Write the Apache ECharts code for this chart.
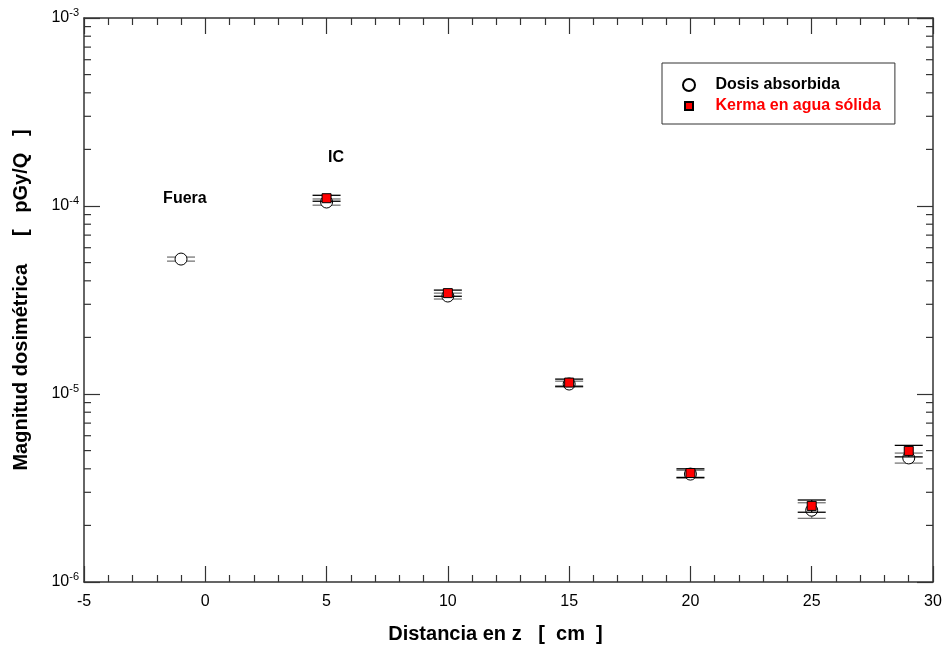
<!DOCTYPE html>
<html><head><meta charset="utf-8">
<script src="https://cdn.jsdelivr.net/npm/echarts@6/dist/echarts.min.js"></script>
<style>html,body{margin:0;padding:0;background:#fff}#c{width:948px;height:653px}</style>
</head><body><div id="c"></div>
<script>
// ---- data ----
const dosisX = [-1, 5, 10, 15, 20, 25, 29];
const dosis = [5.22e-5, 1.05e-4, 3.32e-5, 1.13e-5, 3.75e-6, 2.41e-6, 4.57e-6];
const dosisErr = [0.13e-5, 0.04e-4, 0.12e-5, 0.04e-5, 0.18e-6, 0.23e-6, 0.28e-6];
const kermaX = [5, 10, 15, 20, 25, 29];
const kerma = [1.10e-4, 3.44e-5, 1.15e-5, 3.8e-6, 2.54e-6, 4.98e-6];
const kermaErr = [0.04e-4, 0.13e-5, 0.05e-5, 0.2e-6, 0.19e-6, 0.35e-6];
const xTicks = [-5, 0, 5, 10, 15, 20, 25, 30];
const yMinorTicks = [2e-6,3e-6,4e-6,5e-6,6e-6,7e-6,8e-6,9e-6,
  2e-5,3e-5,4e-5,5e-5,6e-5,7e-5,8e-5,9e-5,
  2e-4,3e-4,4e-4,5e-4,6e-4,7e-4,8e-4,9e-4];
const annotations = [[-0.84, 1.09e-4, 'Fuera'], [5.39, 1.82e-4, 'IC']];
const seriesNames = ['Dosis absorbida', 'Kerma en agua sólida'];

const FONT = '"Liberation Sans", Arial, sans-serif';
const AX = '#333';

function errData(xs, ys, es) {
  return xs.map((x, i) => [x, ys[i], ys[i] - es[i], ys[i] + es[i]]);
}
function errRender(color) {
  return function (params, api) {
    const x = api.value(0);
    const lo = api.coord([x, api.value(2)]);
    const hi = api.coord([x, api.value(3)]);
    const hw = 14;
    const st = { stroke: color, lineWidth: 1.3 };
    return { type: 'group', children: [
      { type: 'line', shape: { x1: lo[0], y1: lo[1], x2: hi[0], y2: hi[1] }, style: st },
      { type: 'line', shape: { x1: lo[0] - hw, y1: lo[1], x2: lo[0] + hw, y2: lo[1] }, style: st },
      { type: 'line', shape: { x1: hi[0] - hw, y1: hi[1], x2: hi[0] + hw, y2: hi[1] }, style: st }
    ]};
  };
}
function minorRender(params, api) {
  const v = api.value(1);
  const l = api.coord([xTicks[0], v]);
  const r = api.coord([xTicks[xTicks.length - 1], v]);
  const st = { stroke: AX, lineWidth: 1.2 };
  return { type: 'group', children: [
    { type: 'line', shape: { x1: l[0], y1: l[1], x2: l[0] + 7, y2: l[1] }, style: st },
    { type: 'line', shape: { x1: r[0] - 7, y1: r[1], x2: r[0], y2: r[1] }, style: st }
  ]};
}

const chart = echarts.init(document.getElementById('c'), null, { renderer: 'canvas' });
const yLabel = {
  margin: 5,
  formatter: v => '{b|10}{s|' + Math.round(Math.log10(v)) + '}',
  rich: {
    b: { fontSize: 16, fontFamily: FONT, color: '#000' },
    s: { fontSize: 11, fontFamily: FONT, color: '#000', padding: [0, 0, 10, 0] }
  }
};
const axLine = { onZero: false, lineStyle: { color: AX, width: 1.5 } };
const majTick = { inside: true, length: 16, lineStyle: { color: AX, width: 1.2 } };
const minTick = { show: true, splitNumber: 5, length: 7, lineStyle: { color: AX, width: 1.2 } };
const squareIcon = 'path://M0,0M12,12M2,2L10,2L10,10L2,10Z';

chart.setOption({
  animation: false,
  backgroundColor: '#fff',
  textStyle: { fontFamily: FONT },
  grid: { left: 84, right: 15, top: 18, bottom: 71, containLabel: false },
  legend: {
    orient: 'vertical', left: 662, top: 63,
    backgroundColor: '#fff', borderColor: AX, borderWidth: 1,
    padding: [14, 14, 10, 20], itemGap: 5,
    itemWidth: 43, itemHeight: 12,
    data: [
      { name: seriesNames[0], icon: 'circle', textStyle: { color: '#000' } },
      { name: seriesNames[1], icon: squareIcon, textStyle: { color: '#f00' } }
    ],
    textStyle: { fontSize: 16, fontWeight: 'bold', fontFamily: FONT }
  },
  xAxis: [{
    type: 'value', min: xTicks[0], max: xTicks[xTicks.length - 1], interval: 5,
    name: 'Distancia en z   [  cm  ]', nameLocation: 'middle', nameGap: 42,
    nameTextStyle: { fontSize: 20, fontWeight: 'bold', color: '#000', fontFamily: FONT, padding: [0, 26, 0, 0] },
    axisLine: axLine, axisTick: majTick, minorTick: minTick,
    axisLabel: { fontSize: 16, color: '#000', margin: 12, fontFamily: FONT },
    splitLine: { show: false }
  }, {
    type: 'value', position: 'top', min: xTicks[0], max: xTicks[xTicks.length - 1], interval: 5,
    axisLine: axLine, axisTick: majTick, minorTick: minTick,
    axisLabel: { show: false }, splitLine: { show: false }
  }],
  yAxis: [{
    type: 'log', logBase: 10, min: 1e-6, max: 1e-3, splitNumber: 3,
    name: 'Magnitud dosimétrica     [   pGy/Q   ]', nameLocation: 'middle', nameGap: 53,
    nameTextStyle: { fontSize: 20, fontWeight: 'bold', color: '#000', fontFamily: FONT },
    axisLine: axLine, axisTick: majTick,
    axisLabel: yLabel,
    splitLine: { show: false }
  }, {
    type: 'log', logBase: 10, min: 1e-6, max: 1e-3, splitNumber: 3, position: 'right',
    axisLine: axLine, axisTick: majTick,
    axisLabel: { show: false }, splitLine: { show: false }
  }],
  series: [
    { type: 'custom', name: 'minor', renderItem: minorRender, clip: false, silent: true,
      data: yMinorTicks.map(v => [0, v]), encode: { x: 0, y: 1 }, z: 1 },
    { type: 'custom', name: 'errD', renderItem: errRender('#777'),
      data: errData(dosisX, dosis, dosisErr), encode: { x: 0, y: [1, 2, 3] }, z: 2 },
    { type: 'scatter', name: seriesNames[0], symbol: 'circle', symbolSize: 12,
      itemStyle: { color: '#fff', borderColor: '#000', borderWidth: 1, opacity: 1 },
      data: dosisX.map((x, i) => [x, dosis[i]]), z: 3 },
    { type: 'custom', name: 'errK', renderItem: errRender('#000'),
      data: errData(kermaX, kerma, kermaErr), encode: { x: 0, y: [1, 2, 3] }, z: 4 },
    { type: 'scatter', name: seriesNames[1], symbol: 'rect', symbolSize: 9,
      itemStyle: { color: '#f00', borderColor: '#000', borderWidth: 1, opacity: 1 },
      data: kermaX.map((x, i) => [x, kerma[i]]), z: 5 },
    { type: 'scatter', name: 'ann', symbolSize: 1, silent: true,
      itemStyle: { opacity: 0 },
      data: annotations,
      label: { show: true, position: 'inside', formatter: p => p.value[2], opacity: 1,
        fontSize: 16, fontWeight: 'bold', color: '#000', textBorderWidth: 0, fontFamily: FONT }, z: 6 }
  ]
});
</script></body></html>
